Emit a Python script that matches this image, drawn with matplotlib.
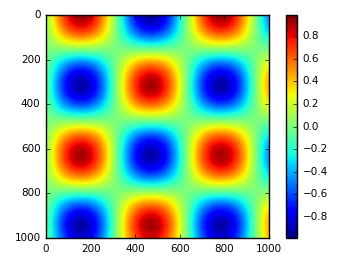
import numpy as np
import matplotlib
matplotlib.use('Agg')
import matplotlib.pyplot as plt

plt.style.use('classic')

row_profile = [0.0, 0.48, 0.84, 1.0, 0.91, 0.60, 0.14, -0.35, -0.76, -0.98, -0.96,
               -0.71, -0.28, 0.22, 0.66, 0.94, 0.99, 0.80, 0.41, -0.08, -0.54]
col_profile = [1.0, 0.88, 0.54, 0.07, -0.42, -0.80, -0.99, -0.94, -0.65, -0.21, 0.28,
               0.71, 0.96, 0.98, 0.75, 0.35, -0.15, -0.60, -0.91, -1.0, -0.84]
step = 50

field = np.outer(col_profile, row_profile)

fig = plt.figure(figsize=(3.54, 2.61), dpi=100)
ax = fig.add_axes([46 / 354, 1 - 238 / 261, 223 / 354, 223 / 261])
cax = fig.add_axes([286 / 354, 1 - 238 / 261, 11 / 354, 223 / 261])

# samples sit at pixel centres, so pad the extent by half a step
half = step / 2
im = ax.imshow(field, cmap='jet', interpolation='bicubic',
               extent=[-half, 1000 + half, 1000 + half, -half],
               vmin=-0.99, vmax=0.99, aspect='auto')
ax.set_xlim(0, 1000)
ax.set_ylim(1000, 0)
ax.set_xticks([0, 200, 400, 600, 800, 1000])
ax.set_yticks([0, 200, 400, 600, 800, 1000])
ax.tick_params(labelsize=7.5, length=3)

cb = fig.colorbar(im, cax=cax)
cb.set_ticks([-0.8, -0.6, -0.4, -0.2, 0.0, 0.2, 0.4, 0.6, 0.8])
cb.ax.tick_params(labelsize=7.5, length=3)

fig.savefig('out.png', dpi=100)
